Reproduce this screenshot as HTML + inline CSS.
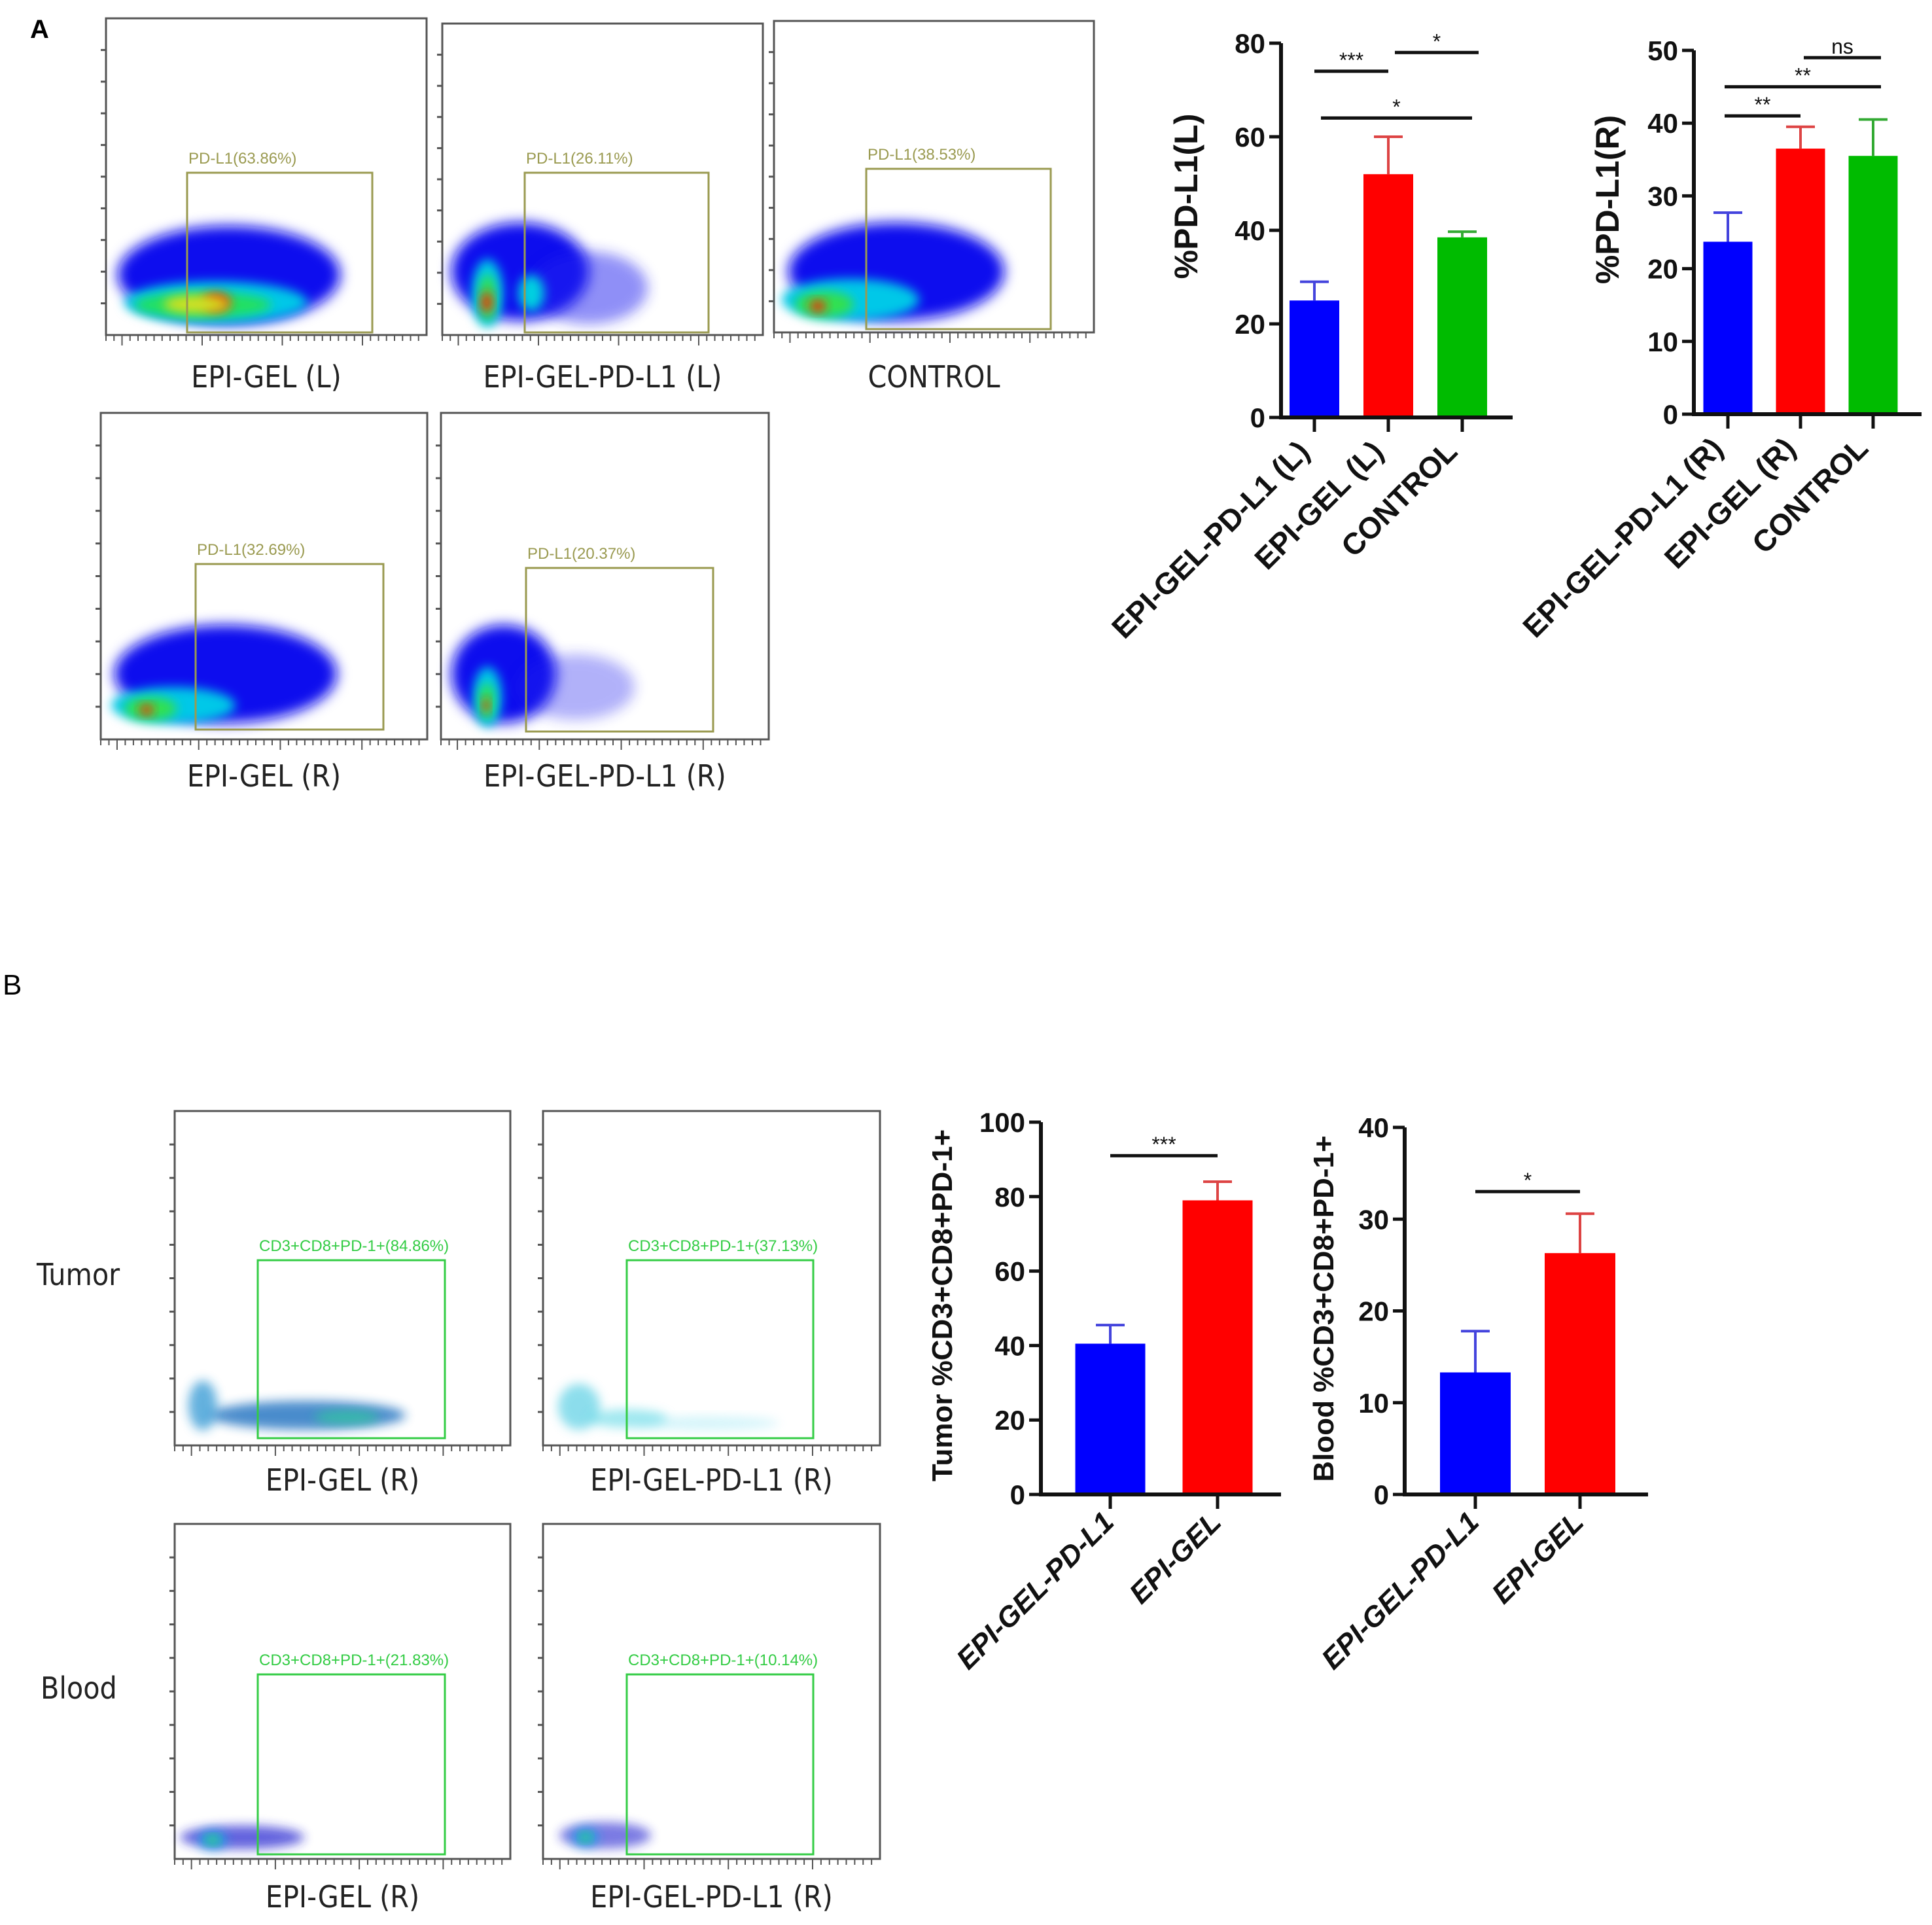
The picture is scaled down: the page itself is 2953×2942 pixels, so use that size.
<!DOCTYPE html>
<html><head><meta charset="utf-8">
<style>
html,body{margin:0;padding:0;background:#fff;}
svg{display:block;}
text{font-family:"Liberation Sans",Arial,sans-serif;}
.lbl{font-family:"DejaVu Sans Condensed","Liberation Sans",sans-serif;}
</style></head>
<body>
<svg id="fig" width="2953" height="2942" viewBox="0 0 2953 2942" xmlns="http://www.w3.org/2000/svg">
<defs>
<filter id="blur8" x="-50%" y="-50%" width="200%" height="200%"><feGaussianBlur stdDeviation="8"/></filter>
<filter id="blur14" x="-50%" y="-50%" width="200%" height="200%"><feGaussianBlur stdDeviation="10"/></filter>
</defs>
<text x="46" y="58" font-size="40" font-weight="bold">A</text>
<text x="4" y="1520" font-size="44">B</text>
<g id="flow"></g>
<g id="charts"></g>
</svg>
<script>
// ---------- bar chart data ----------
const catsAL = ["EPI-GEL-PD-L1 (L)", "EPI-GEL (L)", "CONTROL"];
const valsAL = [25, 52, 38.5];
const errsAL = [4, 8, 1.2];
const ticksAL = [0, 20, 40, 60, 80];

const catsAR = ["EPI-GEL-PD-L1 (R)", "EPI-GEL (R)", "CONTROL"];
const valsAR = [23.7, 36.5, 35.5];
const errsAR = [4, 3, 5];
const ticksAR = [0, 10, 20, 30, 40, 50];

const catsBT = ["EPI-GEL-PD-L1", "EPI-GEL"];
const valsBT = [40.5, 79];
const errsBT = [5, 5];
const ticksBT = [0, 20, 40, 60, 80, 100];

const catsBB = ["EPI-GEL-PD-L1", "EPI-GEL"];
const valsBB = [13.3, 26.3];
const errsBB = [4.5, 4.3];
const ticksBB = [0, 10, 20, 30, 40];

const NS = "http://www.w3.org/2000/svg";
function mk(parent, tag, attrs, txt){
  const e = document.createElementNS(NS, tag);
  for (const k in attrs) e.setAttribute(k, attrs[k]);
  if (txt !== undefined) e.textContent = txt;
  parent.appendChild(e); return e;
}
const colors3 = ["#0000ff", "#ff0000", "#00bb00"];
const errColors = ["#4444dd", "#dd4444", "#33aa33"];

function barChart(cfg){
  const root = document.getElementById("charts");
  const g = mk(root, "g", {});
  
  
  const yMax = cfg.ticks[cfg.ticks.length-1];
  const ys = v => cfg.y0 - (v / yMax) * (cfg.y0 - cfg.yTop);
  const step = cfg.step;
  const xc = i => cfg.firstX + i * step;
  cfg.vals.forEach((v, i) => {
    const bw = cfg.bw;
    const r = mk(g, "rect", {x: xc(i)-bw/2, y: ys(v), width: bw, height: cfg.y0 - ys(v), fill: colors3[i]});
    
    
    const ec = errColors[i];
    const top = ys(v + cfg.errs[i]);
    const el = mk(g, "path", {d: `M${xc(i)} ${ys(v)} V${top} M${xc(i)-22} ${top} H${xc(i)+22}`, stroke: ec, "stroke-width": 4, fill: "none"});
    
    
  });
  const ax = mk(g, "path", {d: `M${cfg.axisX} ${cfg.yTop} V${cfg.y0} H${cfg.axisEnd}`, stroke: "#111", "stroke-width": 6, fill: "none"});
  
  
  cfg.ticks.forEach(t => {
    mk(g, "line", {x1: cfg.axisX-18, x2: cfg.axisX, y1: ys(t), y2: ys(t), stroke: "#111", "stroke-width": 5});
    const tl = mk(g, "text", {x: cfg.axisX-24, y: ys(t)+15, "text-anchor": "end", "font-size": 42, "font-weight": "bold", fill: "#111"}, String(t));
    
    
  });
  cfg.cats.forEach((c, i) => {
    mk(g, "line", {x1: xc(i), x2: xc(i), y1: cfg.y0, y2: cfg.y0+22, stroke: "#111", "stroke-width": 5});
    const lx = xc(i) + cfg.lxo, ly = cfg.y0 + cfg.lyo;
    const tl = mk(g, "text", {x: lx, y: ly, "text-anchor": "end", "font-size": cfg.xfs, "font-weight": "bold", "font-style": cfg.italic ? "italic" : "normal", fill: "#111", transform: `rotate(-45 ${lx} ${ly})`}, c);
    
    
  });
  const yt = mk(g, "text", {x: cfg.titleX, y: cfg.titleY, "text-anchor": "middle", "font-size": cfg.tfs, "font-weight": "bold", fill: "#111", transform: `rotate(-90 ${cfg.titleX} ${cfg.titleY})`}, cfg.title);
  
  
  cfg.sigs.forEach(s => {
    const x1 = xc(s[0]) + s[3], x2 = xc(s[1]) + s[4], y = ys(s[2]);
    const l = mk(g, "line", {x1, x2, y1: y, y2: y, stroke: "#111", "stroke-width": 5});
    
    
    const st = mk(g, "text", {x: (x1+x2)/2, y: y - 6, "text-anchor": "middle", "font-size": 32, fill: "#111"}, s[5]);
    
    
  });
}

barChart({name:"chart-pdl1-left", cats:catsAL, vals:valsAL, errs:errsAL, ticks:ticksAL,
  axisX:1958, axisEnd:2312, y0:638, yTop:66, firstX:2009, step:113, bw:76, xfs:46, lxo:-5, lyo:55,
  title:"%PD-L1(L)", titleX:1830, titleY:300, tfs:50,
  sigs:[[0,1,74,0,0,"***"],[1,2,78,10,25,"*"],[0,2,64,10,15,"*"]]});
barChart({name:"chart-pdl1-right", cats:catsAR, vals:valsAR, errs:errsAR, ticks:ticksAR,
  axisX:2589, axisEnd:2937, y0:633, yTop:77, firstX:2641, step:111, bw:75, xfs:46, lxo:-5, lyo:55,
  title:"%PD-L1(R)", titleX:2474, titleY:305, tfs:50,
  sigs:[[0,1,41,-5,0,"**"],[0,2,45,-5,12,"**"],[1,2,49,5,12,"ns"]]});
barChart({name:"chart-tumor-cd8", cats:catsBT, vals:valsBT, errs:errsBT, ticks:ticksBT,
  axisX:1591, axisEnd:1958, y0:2284, yTop:1715, firstX:1697, step:164, bw:107, xfs:44, italic:true, lxo:8, lyo:45,
  title:"Tumor %CD3+CD8+PD-1+", titleX:1455, titleY:1995, tfs:44,
  sigs:[[0,1,91,0,0,"***"]]});
barChart({name:"chart-blood-cd8", cats:catsBB, vals:valsBB, errs:errsBB, ticks:ticksBB,
  axisX:2147, axisEnd:2519, y0:2284, yTop:1723, firstX:2255, step:160, bw:108, xfs:44, italic:true, lxo:8, lyo:45,
  title:"Blood %CD3+CD8+PD-1+", titleX:2038, titleY:2000, tfs:44,
  sigs:[[0,1,33,0,0,"*"]]});

// ---------- flow plots (decorative) ----------
const flowRoot = document.getElementById("flow");
function flowPlot(p){
  const g = mk(flowRoot, "g", {});
  
  
  const {x0,y0,x1,y1} = p;
  mk(g, "rect", {x:x0, y:y0, width:x1-x0, height:y1-y0, fill:"#fff", stroke:"#555", "stroke-width":3});
  for (let i=1;i<10;i++){ const ty = y0 + (y1-y0)*i/10; mk(g,"line",{x1:x0-8,x2:x0,y1:ty,y2:ty,stroke:"#555","stroke-width":3}); }
  for (let i=0;i<40;i++){ const tx = x0 + (x1-x0)*i/40; const big = i%10==2; mk(g,"line",{x1:tx,x2:tx,y1:y1,y2:y1+(big?16:9),stroke:"#555","stroke-width":2}); }
  p.blobs.forEach(b => mk(g, "ellipse", {cx:b[0], cy:b[1], rx:b[2], ry:b[3], fill:b[4], filter: b[5]||"url(#blur8)", opacity: b[6]||1}));
  const gate = mk(g, "rect", {x:p.gx0, y:p.gy0, width:p.gx1-p.gx0, height:p.gy1-p.gy0, fill:"none", stroke:p.gc, "stroke-width":3});
  
  
  const gl = mk(g, "text", {x:p.gx0+2, y:p.gy0-14, "font-size":p.gfs, fill:p.gc}, p.gateLabel);
  
  
  const lb = mk(g, "text", {x:(x0+x1)/2, y:p.ly, "text-anchor":"middle", "font-size":46, fill:"#222", class:"lbl"}, p.label);
  
  
}
const gA = "#9a9a50";
flowPlot({name:"flow-epi-gel-l", x0:162,y0:28,x1:652,y1:512, gx0:286,gy0:264,gx1:569,gy1:508, gc:gA, gfs:24, gateLabel:"PD-L1(63.86%)", label:"EPI-GEL (L)", ly:592,
  blobs:[[350,420,170,75,"#1010ee","url(#blur14)"],[330,462,140,32,"#00c8e8"],[310,466,105,20,"#20e060"],[330,462,22,14,"#ff2000"],[300,465,50,14,"#d0e020"]]});
flowPlot({name:"flow-epi-gel-pdl1-l", x0:676,y0:36,x1:1166,y1:512, gx0:802,gy0:264,gx1:1083,gy1:508, gc:gA, gfs:24, gateLabel:"PD-L1(26.11%)", label:"EPI-GEL-PD-L1 (L)", ly:592,
  blobs:[[795,415,105,75,"#1010ee","url(#blur14)"],[900,440,90,55,"#2020f0","url(#blur14)",0.5],[745,448,24,52,"#00c8e8"],[745,455,13,36,"#30e050"],[744,462,8,16,"#ff2000"],[812,448,20,28,"#00d0e0"]]});
flowPlot({name:"flow-control-l", x0:1183,y0:32,x1:1672,y1:508, gx0:1324,gy0:258,gx1:1606,gy1:503, gc:gA, gfs:24, gateLabel:"PD-L1(38.53%)", label:"CONTROL", ly:592,
  blobs:[[1370,415,165,75,"#1010ee","url(#blur14)"],[1300,458,105,32,"#00c8e8"],[1260,465,45,20,"#30e050"],[1250,468,12,9,"#ff2000"]]});
flowPlot({name:"flow-epi-gel-r", x0:154,y0:631,x1:653,y1:1130, gx0:299,gy0:862,gx1:586,gy1:1115, gc:gA, gfs:24, gateLabel:"PD-L1(32.69%)", label:"EPI-GEL (R)", ly:1202,
  blobs:[[345,1030,170,75,"#1010ee","url(#blur14)"],[265,1078,95,28,"#00c8e8"],[230,1083,40,18,"#30e050"],[224,1085,10,8,"#ff2000"]]});
flowPlot({name:"flow-epi-gel-pdl1-r", x0:674,y0:631,x1:1175,y1:1130, gx0:804,gy0:868,gx1:1090,gy1:1118, gc:gA, gfs:24, gateLabel:"PD-L1(20.37%)", label:"EPI-GEL-PD-L1 (R)", ly:1202,
  blobs:[[770,1030,80,75,"#1010ee","url(#blur14)"],[880,1050,90,50,"#2020f0","url(#blur14)",0.35],[745,1065,22,46,"#00c8e8"],[744,1072,12,28,"#30e050"],[743,1078,5,10,"#ff2000"]]});
const gB = "#33cc44";
flowPlot({name:"flow-tumor-epi-gel", x0:267,y0:1698,x1:780,y1:2209, gx0:394,gy0:1926,gx1:680,gy1:2198, gc:gB, gfs:24, gateLabel:"CD3+CD8+PD-1+(84.86%)", label:"EPI-GEL (R)", ly:2278,
  blobs:[[470,2163,150,22,"#1a70c0","url(#blur8)",0.8],[310,2148,22,38,"#2090d0","url(#blur8)",0.7],[530,2166,50,10,"#30c8a0","url(#blur8)",0.8]]});
flowPlot({name:"flow-tumor-epi-gel-pdl1", x0:830,y0:1698,x1:1345,y1:2209, gx0:958,gy0:1926,gx1:1243,gy1:2198, gc:gB, gfs:24, gateLabel:"CD3+CD8+PD-1+(37.13%)", label:"EPI-GEL-PD-L1 (R)", ly:2278,
  blobs:[[885,2150,32,35,"#40c8e0","url(#blur8)",0.6],[960,2168,60,14,"#40d0e0","url(#blur8)",0.5],[1080,2175,110,10,"#80e0f0","url(#blur8)",0.35]]});
flowPlot({name:"flow-blood-epi-gel", x0:267,y0:2329,x1:780,y1:2841, gx0:394,gy0:2559,gx1:680,gy1:2834, gc:gB, gfs:24, gateLabel:"CD3+CD8+PD-1+(21.83%)", label:"EPI-GEL (R)", ly:2915,
  blobs:[[370,2808,95,18,"#2020d0","url(#blur8)",0.7],[325,2812,22,14,"#20a0e0"],[325,2812,8,6,"#40e060"]]});
flowPlot({name:"flow-blood-epi-gel-pdl1", x0:830,y0:2329,x1:1345,y1:2841, gx0:958,gy0:2559,gx1:1243,gy1:2834, gc:gB, gfs:24, gateLabel:"CD3+CD8+PD-1+(10.14%)", label:"EPI-GEL-PD-L1 (R)", ly:2915,
  blobs:[[925,2805,70,20,"#2020d0","url(#blur8)",0.6],[895,2808,20,14,"#20a0e0"],[895,2808,7,6,"#40e060"]]});
const t1 = mk(flowRoot, "text", {x:56, y:1964, "font-size":46, fill:"#222", class:"lbl"}, "Tumor");


const t2 = mk(flowRoot, "text", {x:62, y:2596, "font-size":46, fill:"#222", class:"lbl"}, "Blood");


</script>
</body></html>
